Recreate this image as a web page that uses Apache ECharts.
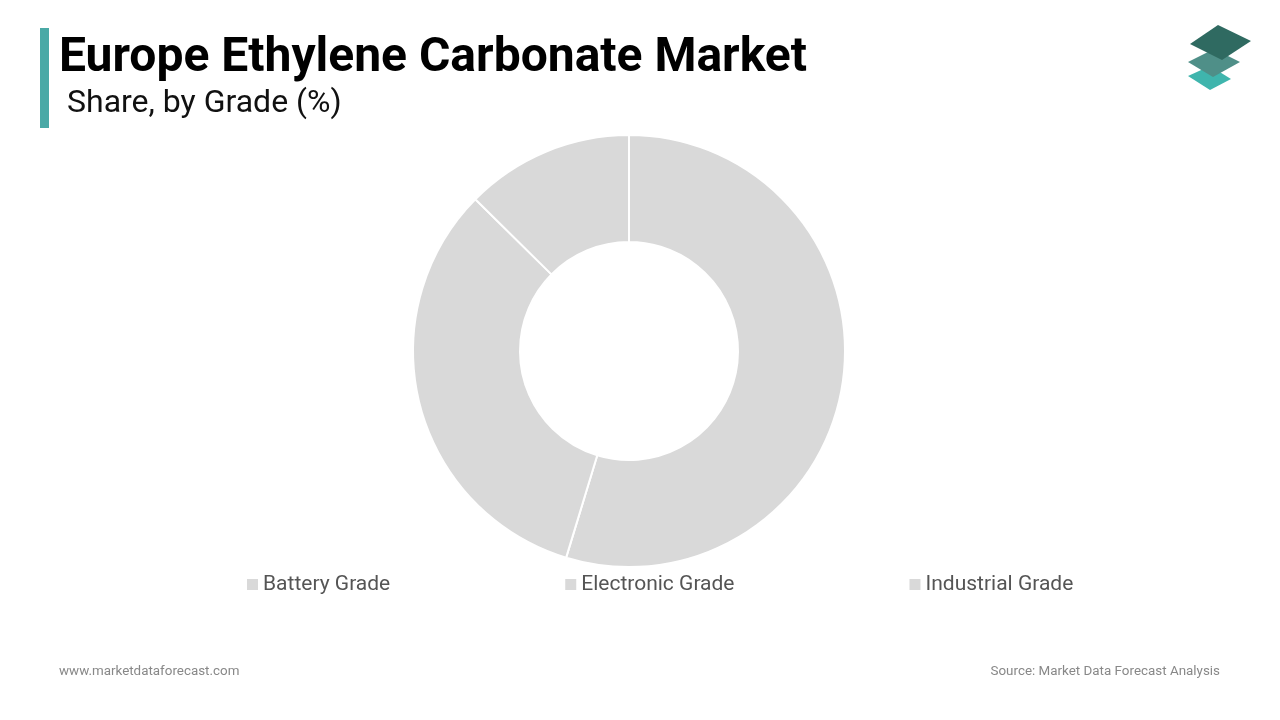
<!DOCTYPE html>
<html><head><meta charset="utf-8">
<script src="https://cdn.jsdelivr.net/npm/echarts@6/dist/echarts.min.js"></script>
<style>html,body{margin:0;padding:0;background:#fff}#c{width:1280px;height:720px}</style>
</head><body><div id="c"></div>
<script>
const categories = ['Battery Grade', 'Electronic Grade', 'Industrial Grade'];
const shares = [54.7, 32.7, 12.6];
const titleText = 'Europe Ethylene Carbonate Market';
const subtitleText = 'Share, by Grade (%)';
const footLeft = 'www.marketdataforecast.com';
const footRight = 'Source: Market Data Forecast Analysis';

const chart = echarts.init(document.getElementById('c'));
chart.setOption({
  animation: false,
  backgroundColor: '#fff',
  color: ['#d9d9d9', '#d9d9d9', '#d9d9d9'],
  legend: {
    data: categories, left: 240, top: 569, itemGap: 173,
    itemWidth: 13, itemHeight: 13, icon: 'rect',
    textStyle: { fontFamily: 'Roboto', fontSize: 21, color: '#555', padding: [0,0,0,-1] }
  },
  graphic: [
    { type: 'rect', shape: { x: 40, y: 28, width: 9, height: 100 }, style: { fill: '#4aa9a6' } },
    { type: 'text', left: 59, top: 35, style: { text: titleText, font: 'bold 48px Roboto', fill: '#000' } },
    { type: 'text', left: 67, top: 88, style: { text: subtitleText, font: '32px Roboto', fill: '#111' } },
    { type: 'text', left: 59, top: 665, style: { text: footLeft, font: '13.4px Roboto', fill: '#888' } },
    { type: 'text', right: 60, top: 665, style: { text: footRight, font: '13.4px Roboto', fill: '#888' } },
    { type: 'polygon', shape: { points: [[1188,76],[1210,66],[1231,79],[1210,90]] }, style: { fill: '#3fb5ad' } },
    { type: 'polygon', shape: { points: [[1188,62],[1214,49],[1240,62],[1213,77]] }, style: { fill: '#4f8f88' } },
    { type: 'polygon', shape: { points: [[1190,44],[1218,25],[1251,41],[1222,60]] }, style: { fill: '#2f6a61' } }
  ],
  series: [{
    type: 'pie', center: [629, 351], radius: [109, 216],
    startAngle: 90, clockwise: true,
    label: { show: false }, labelLine: { show: false },
    itemStyle: { borderColor: '#fff', borderWidth: 2 },
    emphasis: { disabled: true },
    data: categories.map((n, i) => ({ name: n, value: shares[i] }))
  }]
});
</script></body></html>
